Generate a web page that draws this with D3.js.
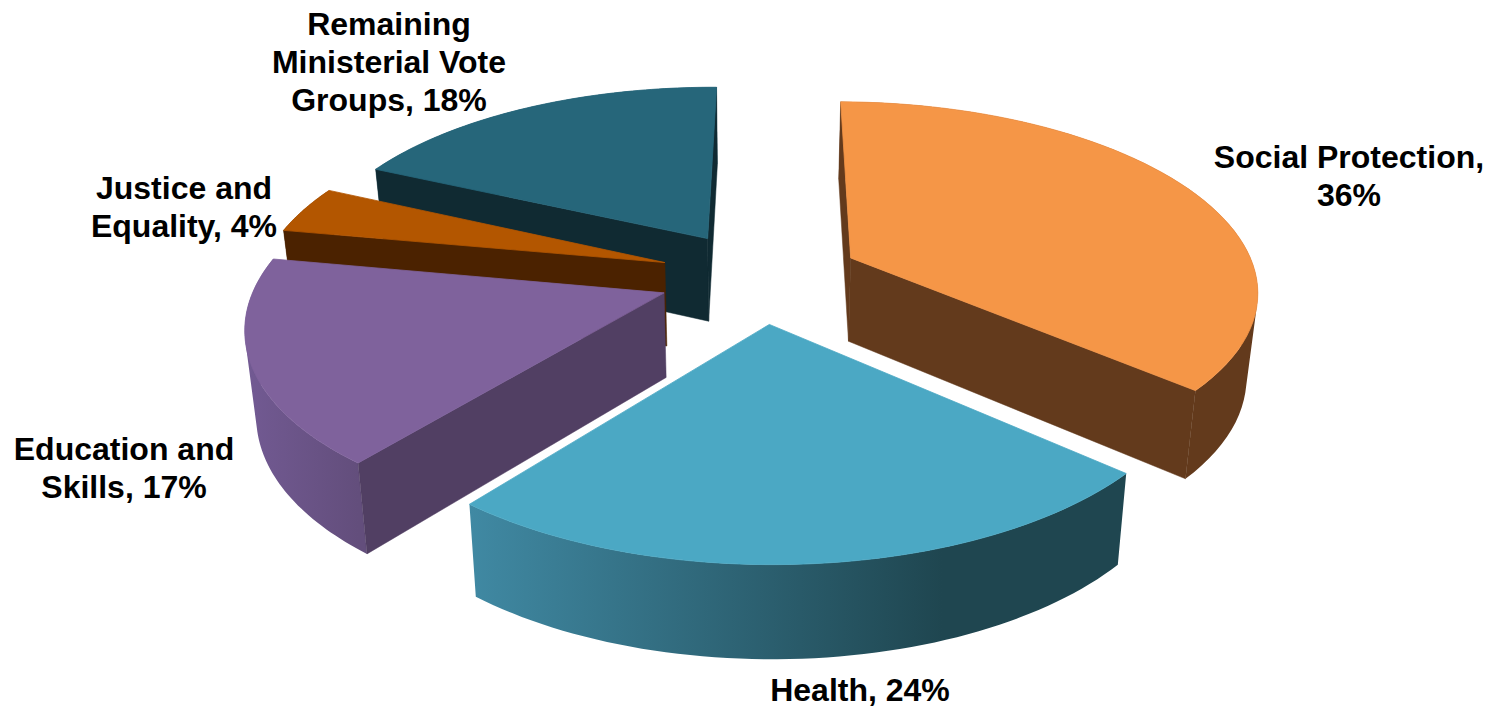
<!DOCTYPE html>
<html>
<head>
<meta charset="utf-8">
<style>
  html, body { margin: 0; padding: 0; background: #fff; overflow: hidden; }
  text { font-family: "Liberation Sans", Arial, sans-serif; font-weight: bold; font-size: 32px; fill: #000; }
</style>
<script src="https://cdn.jsdelivr.net/npm/d3@7"></script>
</head>
<body>
<div id="chart"></div>
<script>
// Data
const categories = ["Social Protection", "Health", "Education and Skills", "Justice and Equality", "Remaining Ministerial Vote Groups"];
const shares = [36, 24, 17, 4, 18];
const labelLines = [
    ["Social Protection,", "36%"],
    ["Health, 24%"],
    ["Education and", "Skills, 17%"],
    ["Justice and", "Equality, 4%"],
    ["Remaining", "Ministerial Vote", "Groups, 18%"]
];

// Colours per slice
const topColors = ["#F59647", "#4BA8C4", "#7F629C", "#B35600", "#26667A"];
const wallColors = ["#633A1C", "#1F4650", "#513F63", "#4B2200", "#102A32"];
const outerLeft = ["#633A1C", "#4089A3", "#725A93", "#4B2200", "#225B6E"];
const outerRight = ["#633A1C", "#1F4650", "#634E7C", "#4B2200", "#225B6E"];

// Label anchor points (centre of first line baseline)
const labelX = [1349, 860, 124, 184, 389];
const labelY = [168, 701, 460, 199, 35];
const lineStep = 38;

const width = 1488, height = 707;

// Perspective view of the pie plane
const vanishX = 753, vanishY = -914;   // where the radial lines meet
const centreX = 7, centreY = 276.5;    // pie centre on the screen
const radius = 406, explode = 101, depth = 2600;
const rotation = 0.5 * Math.PI / 180;
const wallBase = 40, wallGrow = 44, wallShrink = 0.0225;

function project(gx, gy) {
    const s = depth / (depth - gy);
    return [vanishX + gx * s, vanishY + (centreY - vanishY) * s, s];
}

// screen point on the bottom rim under a top point
function lower(p) {
    return [p[0] - (p[0] - vanishX) * wallShrink, p[1] + wallBase + wallGrow * p[2]];
}

const svg = d3.select("#chart").append("svg")
    .attr("width", width)
    .attr("height", height);
const defs = svg.append("defs");

const pie = d3.pie().sort(null).value(d => d)
    .startAngle(rotation)
    .endAngle(rotation + 2 * Math.PI);
const arcs = pie(shares);

const line = d3.line();
const closed = pts => line(pts) + "Z";

function slicePoints(a) {
    const mid = (a.startAngle + a.endAngle) / 2;
    const ox = centreX + explode * Math.sin(mid);
    const oy = -explode * Math.cos(mid);
    const apex = project(ox, oy);
    const angles = d3.range(0, 61).map(i => a.startAngle + (a.endAngle - a.startAngle) * i / 60);
    const rim = angles.map(t => project(ox + radius * Math.sin(t), oy - radius * Math.cos(t)));
    return { apex, rim };
}

// Back to front
const drawOrder = [4, 3, 2, 0, 1];

drawOrder.forEach(i => {
    const { apex, rim } = slicePoints(arcs[i]);
    const g = svg.append("g").attr("class", "slice").attr("data-name", categories[i]);

    // Outer curved wall, one path of strips all wound the same way
    const xs = d3.extent(rim, p => p[0]);
    defs.append("linearGradient")
        .attr("id", "outer" + i)
        .attr("gradientUnits", "userSpaceOnUse")
        .attr("x1", xs[0]).attr("x2", i === 1 ? xs[0] + (xs[1] - xs[0]) * 0.72 : xs[1])
        .attr("y1", 0).attr("y2", 0)
        .selectAll("stop")
        .data([outerLeft[i], outerRight[i]])
        .enter().append("stop")
        .attr("offset", (d, k) => k)
        .attr("stop-color", d => d);
    const strips = d3.pairs(rim).map(([a, b]) => {
        const q = [a, b, lower(b), lower(a)];
        return closed(d3.polygonArea(q) > 0 ? q : q.reverse());
    });
    g.append("path")
        .attr("d", strips.join(""))
        .attr("fill", `url(#outer${i})`);

    // Flat cut walls, only when they face the viewer
    const first = rim[0], last = rim[rim.length - 1];
    const startWall = [apex, first, lower(first), lower(apex)];
    const endWall = [last, apex, lower(apex), lower(last)];
    [startWall, endWall].forEach(w => {
        if (d3.polygonArea(w) > 0) {
            g.append("path").attr("d", closed(w))
                .attr("fill", wallColors[i])
                .attr("stroke", wallColors[i])
                .attr("stroke-width", 0.5);
        }
    });

    // Top face, thin stroke hides the wall fringe
    g.append("path")
        .attr("d", closed([apex].concat(rim)))
        .attr("fill", topColors[i])
        .attr("stroke", topColors[i])
        .attr("stroke-width", 0.8);
});

// Labels
labelLines.forEach((lines, i) => {
    const t = svg.append("text").attr("text-anchor", "middle");
    lines.forEach((l, k) => {
        t.append("tspan")
            .attr("x", labelX[i])
            .attr("y", labelY[i] + k * lineStep)
            .text(l);
    });
});
</script>
</body>
</html>
